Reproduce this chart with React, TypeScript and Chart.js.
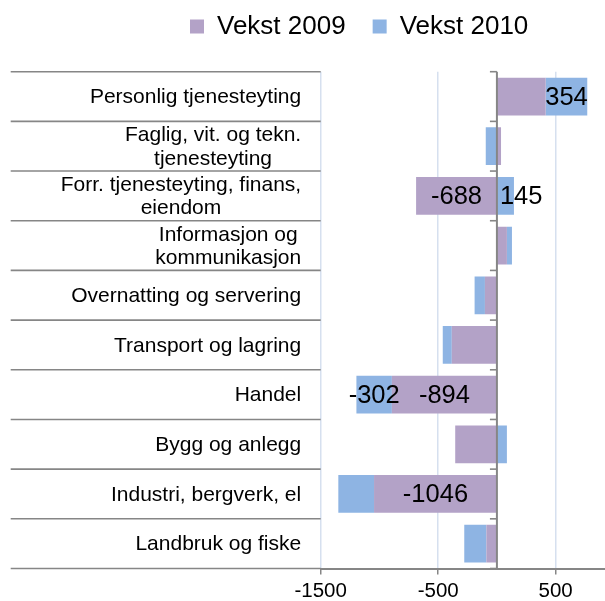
import React, { useEffect, useRef } from 'react';
import { Chart, registerables } from 'chart.js';

Chart.register(...registerables);

// ---------- data ----------
const CATEGORIES: string[][] = [
  ['Personlig tjenesteyting'],
  ['Faglig, vit. og tekn.', 'tjenesteyting'],
  ['Forr. tjenesteyting, finans,', 'eiendom'],
  ['Informasjon og', 'kommunikasjon'],
  ['Overnatting og servering'],
  ['Transport og lagring'],
  ['Handel'],
  ['Bygg og anlegg'],
  ['Industri, bergverk, el'],
  ['Landbruk og fiske'],
];
const SERIES_NAMES = ['Vekst 2009', 'Vekst 2010'];
const VEKST_2009 = [415, 35, -688, 85, -102, -384, -894, -355, -1046, -90];
const VEKST_2010 = [354, -95, 145, 43, -88, -77, -302, 85, -304, -188];
const LABELED_2009 = [false, false, true, false, false, false, true, false, true, false];
const LABELED_2010 = [true, false, true, false, false, false, true, false, false, false];
const X_TICKS = [-1500, -500, 500];
const X_MIN = -1500;
const X_MAX = 920;

// ---------- styling ----------
const FONT = '"Liberation Sans", Arial, Helvetica, sans-serif';
const COLOR_2009 = '#B3A2C7';
const COLOR_2010 = '#8EB4E3';
const AXIS_GREY = '#868686';
const GRID_BLUE = '#d6e0ef';
const PLOT_LEFT = 320.7;
const PLOT_TOP = 71.7;
const XAXIS_HEIGHT = 32.5;
const RULE_LEFT = 10.7;
const LABEL_GAP = 19.5;
const LEGEND_BOX_X = 190;
const LEGEND_TOP = -13.5;

const decorPlugin = {
  id: 'decor',
  beforeUpdate(chart: any) {
    const lg = chart.legend;
    if (lg && !lg.__wrapped) {
      const fit = lg.fit;
      lg.fit = function () {
        fit.call(this);
        this.height = PLOT_TOP;
      };
      lg.__wrapped = true;
    }
  },
  afterLayout(chart: any) {
    const lg = chart.legend;
    if (!lg || !lg.lineWidths) return;
    const pad = lg.options.labels.padding;
    const cur = (lg.left + pad + lg.right - lg.lineWidths[0]) / 2;
    const dx = LEGEND_BOX_X - cur;
    lg.left += dx;
    lg.right += dx;
    const h = lg.height;
    lg.top = LEGEND_TOP;
    lg.bottom = LEGEND_TOP + h;
  },
  afterDatasetsDraw(chart: any) {
    const { ctx, chartArea, scales } = chart;
    const x = scales.x;
    const y = scales.y;
    const n = CATEGORIES.length;
    const x0 = x.getPixelForValue(0);
    ctx.save();
    // rules in the category-label area + ticks on the zero axis
    ctx.strokeStyle = AXIS_GREY;
    ctx.lineWidth = 1.6;
    for (let i = 0; i <= n; i++) {
      const yb = y.getPixelForValue(i - 0.5);
      ctx.beginPath();
      ctx.moveTo(RULE_LEFT, yb);
      ctx.lineTo(chartArea.left, yb);
      ctx.stroke();
      ctx.beginPath();
      ctx.moveTo(x0 - 7, yb);
      ctx.lineTo(x0, yb);
      ctx.stroke();
    }
    // zero (category) axis
    ctx.lineWidth = 2;
    ctx.beginPath();
    ctx.moveTo(x0, chartArea.top);
    ctx.lineTo(x0, chartArea.bottom);
    ctx.stroke();

    // category labels: block right-aligned, lines centred within block
    ctx.fillStyle = '#000';
    ctx.font = `21px ${FONT}`;
    ctx.textAlign = 'center';
    ctx.textBaseline = 'middle';
    const lh = 23.5;
    const right = chartArea.left - LABEL_GAP;
    CATEGORIES.forEach((lines, i) => {
      const yc = y.getPixelForValue(i);
      const w = Math.max(...lines.map((l) => ctx.measureText(l).width));
      const cx = right - w / 2;
      lines.forEach((l, j) => {
        ctx.fillText(l, cx, yc + (j - (lines.length - 1) / 2) * lh + 1);
      });
    });

    // data labels
    ctx.font = `25.5px ${FONT}`;
    const sets = [
      { vals: VEKST_2009, flags: LABELED_2009 },
      { vals: VEKST_2010, flags: LABELED_2010 },
    ];
    sets.forEach((s, d) => {
      const meta = chart.getDatasetMeta(d);
      meta.data.forEach((bar: any, i: number) => {
        if (!s.flags[i]) return;
        const v = s.vals[i];
        const p = bar.getProps(['x', 'base', 'y'], true);
        const txt = String(v);
        const w = ctx.measureText(txt).width;
        const segW = Math.abs(p.x - p.base);
        if (w > segW * 1.5) {
          if (v >= 0) {
            ctx.textAlign = 'left';
            ctx.fillText(txt, Math.min(p.x, p.base) + 3, p.y + 1);
          } else {
            ctx.textAlign = 'right';
            ctx.fillText(txt, Math.max(p.x, p.base) - 3, p.y + 1);
          }
        } else {
          ctx.textAlign = 'center';
          ctx.fillText(txt, (p.x + p.base) / 2, p.y + 1);
        }
      });
    });
    ctx.restore();
  },
};

export default function App() {
  const ref = useRef<HTMLCanvasElement | null>(null);

  useEffect(() => {
    if (!ref.current) return;
    Chart.defaults.font.family = FONT;
    const chart = new Chart(ref.current, {
      type: 'bar',
      data: {
        labels: CATEGORIES,
        datasets: [
          {
            label: SERIES_NAMES[0],
            data: VEKST_2009,
            backgroundColor: COLOR_2009,
            borderWidth: 0,
            barPercentage: 0.76,
            categoryPercentage: 1,
          },
          {
            label: SERIES_NAMES[1],
            data: VEKST_2010,
            backgroundColor: COLOR_2010,
            borderWidth: 0,
            barPercentage: 0.76,
            categoryPercentage: 1,
          },
        ],
      },
      options: {
        indexAxis: 'y',
        responsive: false,
        animation: false,
        layout: { padding: { left: 0, right: 0, top: 0, bottom: 0 } },
        plugins: {
          legend: {
            display: true,
            position: 'top',
            labels: {
              boxWidth: 14,
              boxHeight: 14,
              padding: 27,
              color: '#000',
              font: { size: 26, family: FONT },
            },
          },
          tooltip: { enabled: false },
        },
        scales: {
          x: {
            type: 'linear',
            stacked: true,
            min: X_MIN,
            max: X_MAX,
            afterBuildTicks: (s: any) => {
              s.ticks = X_TICKS.map((v) => ({ value: v }));
            },
            afterFit: (s: any) => {
              s.height = XAXIS_HEIGHT;
            },
            grid: {
              color: GRID_BLUE,
              lineWidth: 1.5,
              drawTicks: true,
              tickLength: 6,
              tickColor: AXIS_GREY,
              tickWidth: 1.5,
            },
            border: { display: true, color: AXIS_GREY, width: 2 },
            ticks: {
              color: '#000',
              font: { size: 20.5, family: FONT },
              padding: 5,
              autoSkip: false,
              maxRotation: 0,
              callback: (v: any) => String(v),
            },
          },
          y: {
            type: 'category',
            stacked: true,
            afterFit: (s: any) => {
              s.width = PLOT_LEFT;
            },
            grid: { display: false },
            border: { display: false },
            ticks: { display: false },
          },
        },
      },
      plugins: [decorPlugin],
    } as any);
    return () => chart.destroy();
  }, []);

  return (
    <div style={{ position: 'absolute', left: 0, top: 0, width: 605, height: 601 }}>
      <canvas ref={ref} width={605} height={601} style={{ display: 'block' }} />
    </div>
  );
}
